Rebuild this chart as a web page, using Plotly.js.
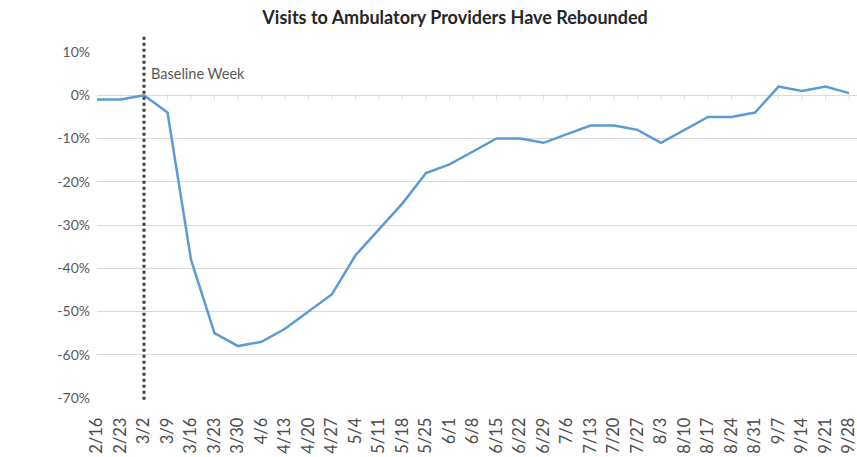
<!DOCTYPE html>
<html>
<head>
<meta charset="utf-8">
<script src="https://cdn.plot.ly/plotly-3.0.1.min.js"></script>
<style>html,body{margin:0;padding:0;background:#fff;}#chart{width:857px;height:457px;}</style>
</head>
<body>
<div id="chart"></div>
<script>
const weeks = ["2/16","2/23","3/2","3/9","3/16","3/23","3/30","4/6","4/13","4/20","4/27","5/4","5/11","5/18","5/25","6/1","6/8","6/15","6/22","6/29","7/6","7/13","7/20","7/27","8/3","8/10","8/17","8/24","8/31","9/7","9/14","9/21","9/28"];
const visitChange = [-1,-1,0,-4,-38,-55,-58,-57,-54,-50,-46,-37,-31,-25,-18,-16,-13,-10,-10,-11,-9,-7,-7,-8,-11,-8,-5,-5,-4,2,1,2,0.5];
const yTickVals = [10,0,-10,-20,-30,-40,-50,-60,-70];
const yTickText = ["10%","0%","-10%","-20%","-30%","-40%","-50%","-60%","-70%"];
const baselineWeek = "3/2";
const baselineLabel = "Baseline Week";
const chartTitle = "Visits to Ambulatory Providers Have Rebounded";

const idx = weeks.map((w,i)=>i);
const traces = [
  {x: idx, y: visitChange, type:'scatter', mode:'lines',
   line:{color:'#5b9bd5', width:2.5}, hoverinfo:'skip', showlegend:false}
];
const bIdx = weeks.indexOf(baselineWeek);
const shapes = [];
// faint category tick marks on the 0% axis line
idx.forEach(i => {
  if (i === 0) return;
  shapes.push({type:'line', xref:'x', yref:'y', x0:i, x1:i, y0:0.3, y1:-1.2,
               line:{color:'#e3e3e3', width:1}, layer:'below'});
});
shapes.push({type:'line', xref:'x', yref:'paper', x0:bIdx, x1:bIdx, y0:-0.005, y1:1.05,
     line:{color:'#404040', width:3, dash:'dot'}});
const layout = {
  width:857, height:457,
  margin:{l:97, r:0, t:52, b:59},
  paper_bgcolor:'#fff', plot_bgcolor:'#fff',
  font:{family:'Lato, "Open Sans", sans-serif', color:'#595959'},
  title:{text:'<b>'+chartTitle+'</b>', font:{size:18, color:'#262626', family:'Lato, sans-serif'},
         x:0.531, xref:'container', xanchor:'center', y:0.962, yref:'container', yanchor:'middle'},
  xaxis:{range:[0,32.34], tickvals:idx, ticktext:weeks, tickangle:-90,
         tickfont:{size:16.5, color:'#4d4d4d'}, showgrid:false, zeroline:false,
         showline:false, ticks:'outside', ticklen:12, tickcolor:'rgba(0,0,0,0)',
         ticklabeloverflow:'allow', fixedrange:true},
  yaxis:{range:[-70,10], tickvals:yTickVals, ticktext:yTickText,
         tickfont:{size:14, color:'#595959'}, showgrid:true, gridcolor:'#d9d9d9', gridwidth:1,
         zeroline:false, showline:false, ticks:'', ticklabelstandoff:6, fixedrange:true},
  shapes: shapes,
  annotations:[
    {xref:'x', yref:'y', x:bIdx+0.2, y:5, text:baselineLabel, showarrow:false,
     xanchor:'left', yanchor:'middle', font:{size:14.5, color:'#595959'}}
  ]
};
Plotly.newPlot('chart', traces, layout, {displayModeBar:false, staticPlot:true});
</script>
</body>
</html>
